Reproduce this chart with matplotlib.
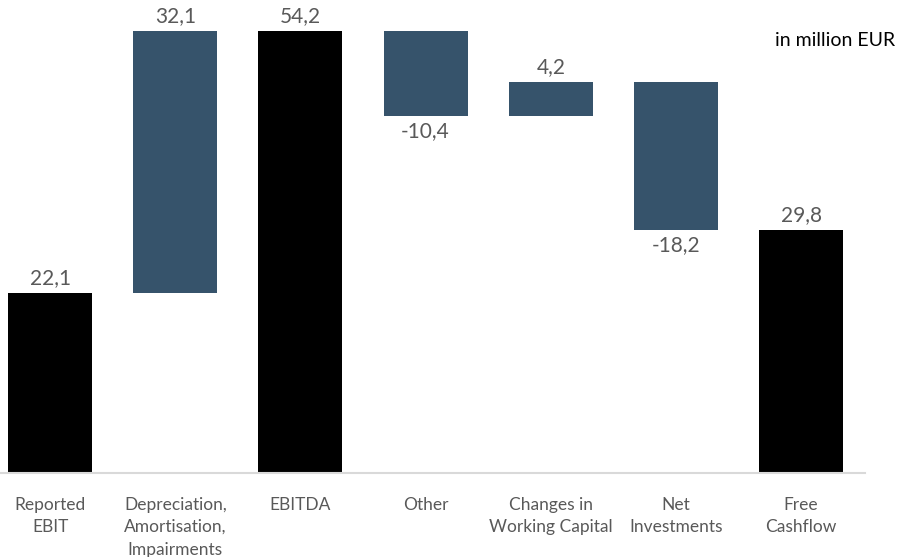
import matplotlib.pyplot as plt
import numpy as np

plt.rcParams['font.family'] = ['Lato', 'DejaVu Sans']

# waterfall data (million EUR)
categories = ["Reported\nEBIT", "Depreciation,\nAmortisation,\nImpairments", "EBITDA",
              "Other", "Changes in\nWorking Capital", "Net\nInvestments", "Free\nCashflow"]
values = [22.1, 32.1, 54.2, -10.4, 4.2, -18.2, 29.8]
is_total = [True, False, True, False, False, False, True]

total_color = "#000000"
step_color = "#36536b"
text_grey = "#595959"

# compute bottoms for the floating bars
bottoms = []
heights = []
running = 0.0
for v, tot in zip(values, is_total):
    if tot:
        bottoms.append(0.0)
        heights.append(v)
        running = v
    else:
        if v >= 0:
            bottoms.append(running)
        else:
            bottoms.append(running + v)
        heights.append(abs(v))
        running += v

fig = plt.figure(figsize=(8.97, 5.57), dpi=100)
ax = fig.add_axes([0, 84 / 557, 865 / 897, 473 / 557])

x = np.arange(len(categories))
colors = [total_color if t else step_color for t in is_total]
ax.bar(x, heights, bottom=bottoms, width=0.67, color=colors)

for xi, v, b, h in zip(x, values, bottoms, heights):
    label = f"{abs(v):.1f}".replace(".", ",")
    if v < 0:
        ax.text(xi, b - 0.6, "-" + label, ha="center", va="top",
                fontsize=15, color=text_grey)
    else:
        ax.text(xi, b + h + 0.6, label, ha="center", va="bottom",
                fontsize=15, color=text_grey)

ax.set_xlim(-0.4, 6.51)
ax.set_ylim(0, 58)
ax.set_xticks(x)
ax.set_xticklabels(categories, fontsize=12.5, color=text_grey, linespacing=1.5)
ax.tick_params(axis="x", length=0, pad=17)
ax.set_yticks([])
for s in ["top", "right", "left"]:
    ax.spines[s].set_visible(False)
ax.spines["bottom"].set_color("#d9d9d9")
ax.spines["bottom"].set_linewidth(1.5)

fig.text(895 / 897, 1 - 40 / 557, "in million EUR", ha="right", va="center",
         fontsize=14, color="black")

fig.savefig("out.png", dpi=100)
